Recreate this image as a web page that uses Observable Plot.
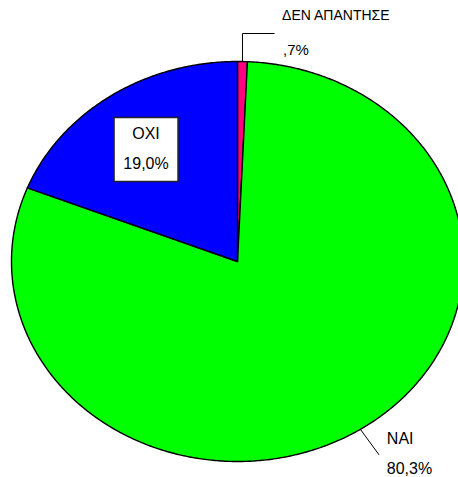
<!DOCTYPE html>
<html><head><meta charset="utf-8">
<script src="https://cdn.jsdelivr.net/npm/d3@7"></script>
<script src="https://cdn.jsdelivr.net/npm/@observablehq/plot@0.6"></script>
<style>
html,body{margin:0;padding:0;background:#fff;overflow:hidden;}
svg{overflow:hidden;}
</style>
</head><body><div id="chart"></div>
<script>
// Data, clockwise from 12 o'clock
const categories = ["ΔΕΝ ΑΠΑΝΤΗΣΕ", "ΝΑΙ", "ΟΧΙ"];
const values = [0.7, 80.3, 19.0];
const valueLabels = [",7%", "80,3%", "19,0%"];
const colors = ["#ff0080", "#00ff00", "#0000ff"];

const arcs = d3.pie().sort(null).value(d => d)(values);

// slice outlines (unit circle, y up; stretched into an ellipse by the scales)
const slicePoints = arcs.map((a, i) => {
  const pts = [{cat: categories[i], x: 0, y: 0}];
  const n = Math.max(2, Math.ceil((a.endAngle - a.startAngle) / (Math.PI / 360)));
  for (let k = 0; k <= n; k++) {
    const t = a.startAngle + (a.endAngle - a.startAngle) * k / n;
    pts.push({cat: categories[i], x: Math.sin(t), y: Math.cos(t)});
  }
  return pts;
});

const anchor = (i, r) => {
  const m = (arcs[i].startAngle + arcs[i].endAngle) / 2;
  return {x: Math.sin(m) * r, y: Math.cos(m) * r};
};

// ΔΕΝ ΑΠΑΝΤΗΣΕ: elbow leader
const pA = anchor(0, 1);
const pElbow = {x: pA.x, y: 1.14};
const pEnd = {x: pA.x + 0.14, y: 1.14};
// ΝΑΙ: radial leader
const nA = anchor(1, 1);
const nEnd = anchor(1, 1.15);
// ΟΧΙ: boxed label inside the slice
const oA = anchor(2, 0.72);

const font = "'Liberation Sans', Arial, sans-serif";

const chart = Plot.plot({
  width: 458,
  height: 477,
  margin: 0,
  x: {domain: [-1, 1], range: [11, 463], axis: null},
  y: {domain: [-1, 1], range: [461, 61], axis: null},
  style: {fontFamily: font, fontSize: "16px", background: "white", color: "black"},
  marks: [
    ...slicePoints.map((pts, i) =>
      Plot.line(pts, {x: "x", y: "y", fill: colors[i], stroke: "black", strokeWidth: 1.4, curve: "linear-closed", strokeLinejoin: "round"})
    ),
    Plot.line([pA, pElbow, pEnd], {x: "x", y: "y", stroke: "black", strokeWidth: 1}),
    Plot.text([pEnd], {x: "x", y: "y", text: () => categories[0], textAnchor: "start", dx: 8, dy: -18, fontSize: 14, letterSpacing: "-0.6px"}),
    Plot.text([pEnd], {x: "x", y: "y", text: () => valueLabels[0], textAnchor: "start", dx: 9, dy: 17, fontSize: 15}),
    Plot.line([nA, nEnd], {x: "x", y: "y", stroke: "black", strokeWidth: 1}),
    Plot.text([nEnd], {x: "x", y: "y", text: () => categories[1], textAnchor: "start", dx: 8, dy: -16, fontSize: 16}),
    Plot.text([nEnd], {x: "x", y: "y", text: () => valueLabels[1], textAnchor: "start", dx: 8, dy: 14, fontSize: 16}),
    Plot.dot([oA], {x: "x", y: "y", symbol: "square", r: 36.1, fill: "white", stroke: "#222", strokeWidth: 1.5, dy: 7}),
    Plot.text([oA], {x: "x", y: "y", text: () => categories[2], dy: -9, fontSize: 16}),
    Plot.text([oA], {x: "x", y: "y", text: () => valueLabels[2], dy: 21, fontSize: 16})
  ]
});
document.getElementById("chart").append(chart);
</script>
</body></html>
